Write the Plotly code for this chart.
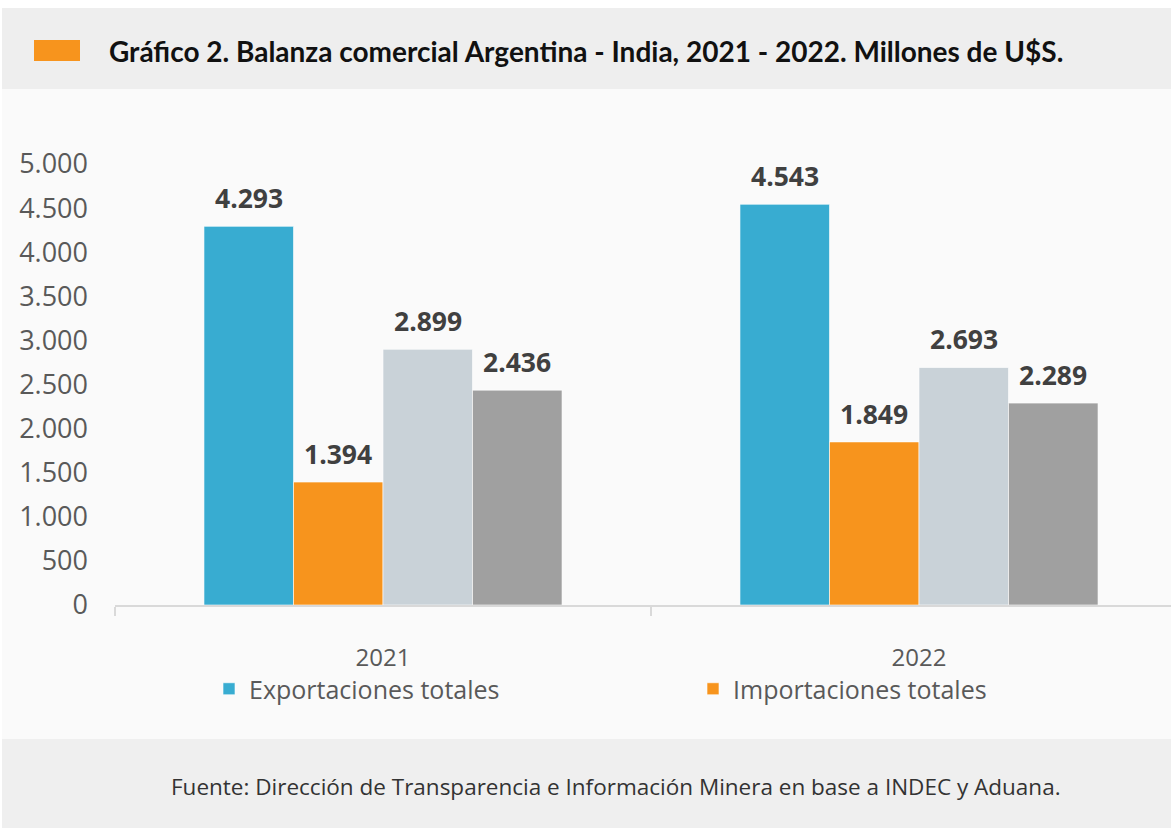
import plotly.graph_objects as go

years = ["2021", "2022"]
series_names = ["Exportaciones totales", "Importaciones totales", "Serie 3", "Serie 4"]
exportaciones = [4293, 4543]
importaciones = [1394, 1849]
serie3 = [2899, 2693]
serie4 = [2436, 2289]
colors = ["#38ACD1", "#F7941D", "#C9D2D8", "#A0A0A0"]
legend_ids = ["legend", "legend2", None, None]

W, H = 1171, 830
L, R, T, B = 115, 0, 164, 225
PW, PH = W - L - R, H - T - B
CAT_PX = 536
BARGAP = 0.332


def px(x):
    return (x - L) / PW


def py(y):
    return (H - B - y) / PH


all_series = [exportaciones, importaciones, serie3, serie4]

fig = go.Figure()
for name, vals, col, lg in zip(series_names, all_series, colors, legend_ids):
    fig.add_trace(go.Bar(
        x=years, y=vals, name=name,
        marker=dict(color=col, line=dict(color="rgba(255,255,255,0.6)", width=1)),
        showlegend=lg is not None, legend=lg if lg else "legend",
    ))

# value labels above bars
bar_w = (1 - BARGAP) / len(all_series) * CAT_PX
annotations = []
for i, vals in enumerate(all_series):
    shift = (i - (len(all_series) - 1) / 2) * bar_w
    for j, v in enumerate(vals):
        annotations.append(dict(
            x=j, y=v, xref="x", yref="y", text="<b>" + f"{v:,}".replace(",", ".") + "</b>",
            showarrow=False, xshift=shift, yshift=28, yanchor="middle", xanchor="center",
            font=dict(family="Open Sans", size=26.5, color="#404040"),
        ))

shapes = [
    dict(type="rect", xref="paper", yref="paper", x0=px(2), x1=px(W + 5), y0=py(89), y1=py(739),
         fillcolor="#FAFAFA", line=dict(width=0), layer="below"),
    dict(type="rect", xref="paper", yref="paper", x0=px(2), x1=px(W + 5), y0=py(8), y1=py(89),
         fillcolor="#EEEEEE", line=dict(width=0), layer="below"),
    dict(type="rect", xref="paper", yref="paper", x0=px(2), x1=px(W + 5), y0=py(739), y1=py(828),
         fillcolor="#EFEFEF", line=dict(width=0), layer="below"),
    dict(type="rect", xref="paper", yref="paper", x0=px(34), x1=px(80), y0=py(40), y1=py(61),
         fillcolor="#F7941D", line=dict(width=0), layer="above"),
]

annotations += [
    dict(text="<b>Gráfico 2. Balanza comercial Argentina - India, 2021 - 2022. Millones de U$S.</b>",
         xref="paper", yref="paper", x=px(107), y=py(51), xanchor="left", yanchor="middle",
         showarrow=False, font=dict(family="Lato", size=28, color="#111111")),
    dict(text="Fuente: Dirección de Transparencia e Información Minera en base a INDEC y Aduana.",
         xref="paper", yref="paper", x=px(616), y=py(786), xanchor="center", yanchor="middle",
         showarrow=False, font=dict(family="Open Sans", size=22.5, color="#333333")),
]

legend_common = dict(orientation="h", yanchor="middle", xanchor="left", itemwidth=30,
                     font=dict(family="Open Sans", size=25, color="#595959"),
                     bgcolor="rgba(0,0,0,0)")

fig.update_layout(
    width=W, height=H,
    margin=dict(l=L, r=R, t=T, b=B, pad=0),
    paper_bgcolor="white", plot_bgcolor="rgba(0,0,0,0)",
    barmode="group", bargap=BARGAP, bargroupgap=0,
    separators=",.",
    font=dict(family="Open Sans", color="#595959"),
    shapes=shapes, annotations=annotations,
    legend=dict(x=px(209), y=py(689), **legend_common),
    legend2=dict(x=px(693), y=py(689), **legend_common),
    xaxis=dict(type="category", range=[-0.5, -0.5 + PW / CAT_PX], showline=True, linecolor="#D9D9D9",
               linewidth=2, ticks="outside", tickson="boundaries", ticklen=9, tickcolor="#D9D9D9",
               tickwidth=1.5, tickfont=dict(family="Open Sans", size=24, color="#595959"),
               ticklabelstandoff=30, showgrid=False, fixedrange=True),
    yaxis=dict(range=[0, 5000], dtick=500, tickformat=",d", showgrid=False, zeroline=False,
               showline=False, tickfont=dict(family="Open Sans", size=27, color="#595959"),
               ticklabelstandoff=26, fixedrange=True),
)

fig.write_html("out.html", config={"displayModeBar": False},
               post_script="document.body.style.margin='0';")
